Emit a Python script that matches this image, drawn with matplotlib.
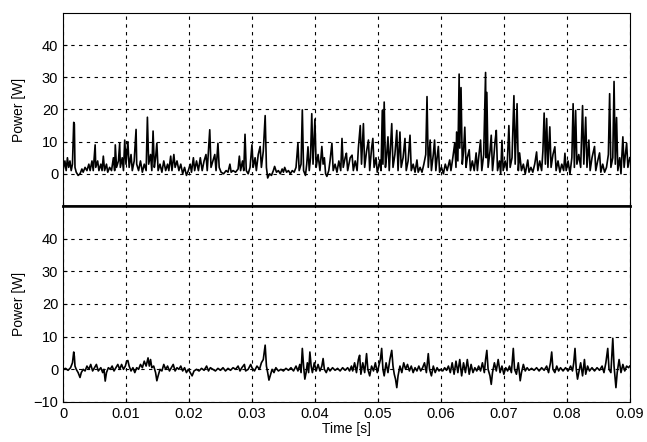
import numpy as np
import matplotlib
matplotlib.use("Agg")
import matplotlib.pyplot as plt

plt.rcParams["font.family"] = ["Liberation Sans", "DejaVu Sans"]

# upper trace: time [s] / power [W]
top_t = [0.0000, 0.0003, 0.0005, 0.0007, 0.0009, 0.0011, 0.0013, 0.0015, 0.0017, 0.0018,
         0.0019, 0.0021, 0.0024, 0.0027, 0.0030, 0.0032, 0.0035, 0.0038, 0.0041, 0.0043,
         0.0046, 0.0048, 0.0051, 0.0052, 0.0055, 0.0057, 0.0060, 0.0062, 0.0064, 0.0066,
         0.0069, 0.0071, 0.0074, 0.0077, 0.0080, 0.0082, 0.0083, 0.0085, 0.0088, 0.0090,
         0.0091, 0.0094, 0.0096, 0.0098, 0.0100,
         0.0103, 0.0105, 0.0108, 0.0110, 0.0113, 0.0116, 0.0117, 0.0120, 0.0123, 0.0126,
         0.0129, 0.0132, 0.0134, 0.0136, 0.0139, 0.0141, 0.0143, 0.0145, 0.0147, 0.0149,
         0.0151, 0.0154, 0.0157, 0.0160, 0.0163, 0.0166, 0.0168, 0.0171, 0.0173, 0.0176,
         0.0178, 0.0181, 0.0184, 0.0187, 0.0190, 0.0193, 0.0196, 0.0199,
         0.0202, 0.0204, 0.0207, 0.0209, 0.0212, 0.0215, 0.0218, 0.0221, 0.0224, 0.0227,
         0.0229, 0.0233, 0.0235, 0.0238, 0.0241, 0.0243, 0.0246, 0.0248, 0.0251, 0.0255,
         0.0259, 0.0262, 0.0265, 0.0267, 0.0270, 0.0274, 0.0278, 0.0280, 0.0282, 0.0285,
         0.0287, 0.0289, 0.0291, 0.0294, 0.0297, 0.0300,
         0.0302, 0.0305, 0.0307, 0.0310, 0.0313, 0.0315, 0.0318, 0.0321, 0.0323, 0.0325,
         0.0328, 0.0331, 0.0334, 0.0336, 0.0339, 0.0342, 0.0345, 0.0348, 0.0350, 0.0352,
         0.0355, 0.0358, 0.0361, 0.0364, 0.0367, 0.0370, 0.0373, 0.0375, 0.0378, 0.0380,
         0.0382, 0.0385, 0.0387, 0.0389, 0.0391, 0.0393, 0.0395, 0.0397, 0.0400,
         0.0402, 0.0405, 0.0408, 0.0411, 0.0413, 0.0415, 0.0417, 0.0419, 0.0422, 0.0424,
         0.0427, 0.0429, 0.0432, 0.0435, 0.0438, 0.0441, 0.0443, 0.0445, 0.0448, 0.0450,
         0.0452, 0.0456, 0.0459, 0.0461, 0.0464, 0.0467, 0.0469, 0.0472, 0.0474, 0.0477,
         0.0479, 0.0482, 0.0485, 0.0487, 0.0490, 0.0492, 0.0494, 0.0497, 0.0499,
         0.0501, 0.0503, 0.0505, 0.0507, 0.0508, 0.0510, 0.0512, 0.0514, 0.0516, 0.0518,
         0.0520, 0.0522, 0.0524, 0.0527, 0.0530, 0.0532, 0.0535, 0.0537, 0.0540, 0.0543,
         0.0545, 0.0548, 0.0551, 0.0553, 0.0556, 0.0559, 0.0562, 0.0564, 0.0567, 0.0570,
         0.0573, 0.0576, 0.0578, 0.0580, 0.0583, 0.0585, 0.0588, 0.0590, 0.0592, 0.0594,
         0.0596, 0.0598,
         0.0601, 0.0604, 0.0607, 0.0610, 0.0614, 0.0616, 0.0619, 0.0622, 0.0624, 0.0625,
         0.0627, 0.0629, 0.0630, 0.0632, 0.0634, 0.0636, 0.0638, 0.0640, 0.0642, 0.0645,
         0.0647, 0.0650, 0.0653, 0.0656, 0.0658, 0.0660, 0.0663, 0.0665, 0.0668, 0.0671,
         0.0672, 0.0673, 0.0675, 0.0678, 0.0680, 0.0682, 0.0684, 0.0686, 0.0688, 0.0690,
         0.0693, 0.0695,
         0.0697, 0.0699, 0.0702, 0.0705, 0.0708, 0.0710, 0.0713, 0.0716, 0.0718, 0.0721,
         0.0723, 0.0725, 0.0728, 0.0731, 0.0734, 0.0738, 0.0740, 0.0743, 0.0746, 0.0749,
         0.0752, 0.0754, 0.0757, 0.0760, 0.0762, 0.0764, 0.0766, 0.0768, 0.0770, 0.0773,
         0.0775, 0.0778, 0.0781, 0.0783, 0.0786, 0.0789, 0.0792, 0.0795, 0.0797, 0.0799,
         0.0802, 0.0805, 0.0808, 0.0810, 0.0812, 0.0814, 0.0816, 0.0819, 0.0822, 0.0825,
         0.0827, 0.0830, 0.0832, 0.0835, 0.0837, 0.0840, 0.0844, 0.0846, 0.0849, 0.0852,
         0.0854, 0.0857, 0.0860, 0.0863, 0.0866, 0.0868, 0.0870, 0.0873, 0.0875, 0.0877,
         0.0879, 0.0881, 0.0884, 0.0886, 0.0889, 0.0891, 0.0893, 0.0895, 0.0897, 0.0900]
top_p = [1, 4, 1, 5, 2, 4, 1, 3, 16, 15.5,
         2, 0.5, -0.5, 0, 1.5, 0.5, 2, 1, 3, 1,
         4, 1, 9, 2, 4, 1, 3, 1, 5.5, 1,
         3, 0.5, 2, 1, 5, 1, 9, 2, 4, 9.5,
         2, 5, 1, 10.5, 3,
         10, 2, 6, 1, 4, 13.8, 3, 1, 4, 0.5,
         3, 1, 17.6, 3, 6, 1, 13.3, 2, 5, 9.5,
         1, 3, 0.5, 4, 1, 3, 1, 5.5, 1, 6,
         2, 4, 1, 3, 0, 2, -0.5, 1,
         3, 0.5, 5, 1, 4, 1, 5, 1, 4, 6,
         1, 13.7, 2, 4, 6, 1, 9.5, 2, 0.5, 0,
         1, 0.5, 3, 0.5, 1, 0.5, 1.5, 5.5, 1, 4,
         1, 12.3, 1, 0, 2, 9,
         2, 5, 1, 6, 8.5, 2, 7, 18.1, 2, -1.3,
         0, -0.5, 1, 2.3, 0.5, 1, 0, 1.5, 0.5, 2,
         0.5, 1, 0, 1, 0.5, 2, 9.5, 1, 3, 19.9,
         1, -0.5, 3, 8.4, 1, 5, 18.7, 3, 17,
         2, 6, 1, 8.5, 3, 5, 0, -0.8, 1, 4,
         9.5, 1, 3, 0.5, 4, 1, 11, 2, 5, 6.4,
         1, 5, 5.8, 1, 4, 1, 8, 15, 3, 15.6,
         2, 7, 10.5, 1, 8, 11, 2, 5, 0.5,
         2, 4.3, 1, 19.7, 3, 22.3, 2, 6, 11.5, 1,
         8, 15.6, 2, 6, 13.5, 1, 13, 2, 5, 11,
         1, 4, 12, 1, 3, 0.5, 4.3, 0.5, 2, 0.5,
         3, 6, 24, 2, 10.5, 1, 6, 10.5, 1, 5,
         8.5, 0.5,
         2, 0, 3, 1, 4.3, 1, 5, 9.5, 2, 13,
         4, 31, 8, 26.8, 3, 7, 14.5, 2, 5, 7.5,
         1, 4, 1, 6.5, 1, 5, 10.5, 1, 6, 31.5,
         5, 25.3, 2, 7, 12, 1, 5, 10, 13.5, 1,
         4, 0,
         10.4, 1, 4, 1, 15, 2, 5, 24.3, 3, 21.8,
         1, 6.5, 1, 3, 0, 4.3, 0.5, 2, 0.5, 3,
         6.8, 1, 4, 1, 7, 18.9, 3, 17.2, 2, 14.6,
         2, 6, 8.4, 1, 4, 0.5, 3, 1, 6.4, 1,
         4, 0, 5, 21.8, 2, 19.7, 3, 6, 2, 21.2,
         3, 17.6, 2, 10.5, 1, 5, 8.5, 1, 4, 6.5,
         0.5, 3, 0.5, 2, 6, 24.9, 2, 5, 28.7, 3,
         17.5, 1, 5, 0, 11.5, 2, 6, 9.5, 2, 5]

# lower trace
bot_t = [0.0000, 0.0004, 0.0008, 0.0012, 0.0015, 0.0017, 0.0018, 0.0019, 0.0021, 0.0024,
         0.0027, 0.0029, 0.0032, 0.0035, 0.0038, 0.0041, 0.0044, 0.0047, 0.0050, 0.0053,
         0.0056, 0.0060, 0.0063, 0.0065, 0.0067, 0.0069, 0.0072, 0.0075, 0.0078, 0.0081,
         0.0084, 0.0087, 0.0090, 0.0093, 0.0096, 0.0099, 0.0101, 0.0103, 0.0105, 0.0108,
         0.0111, 0.0114, 0.0117, 0.0120, 0.0123, 0.0126, 0.0129, 0.0132, 0.0135, 0.0137,
         0.0139, 0.0141, 0.0144, 0.0147, 0.0149, 0.0151, 0.0154, 0.0157, 0.0160, 0.0163,
         0.0166, 0.0169, 0.0172, 0.0175, 0.0178, 0.0181, 0.0184, 0.0187, 0.0190, 0.0193,
         0.0196, 0.0199, 0.0202, 0.0205, 0.0208, 0.0212, 0.0216, 0.0220, 0.0224, 0.0228,
         0.0231, 0.0234, 0.0238, 0.0242, 0.0246, 0.0250, 0.0254, 0.0258, 0.0262, 0.0266,
         0.0270, 0.0274, 0.0278, 0.0281, 0.0284, 0.0288, 0.0290, 0.0294, 0.0298, 0.0300,
         0.0304, 0.0308, 0.0312, 0.0315, 0.0318, 0.0321, 0.0323, 0.0325, 0.0327, 0.0329,
         0.0332, 0.0335, 0.0338, 0.0342, 0.0346, 0.0350, 0.0354, 0.0358, 0.0362, 0.0366,
         0.0370, 0.0373, 0.0376, 0.0378, 0.0380, 0.0382, 0.0384, 0.0386, 0.0388, 0.0390,
         0.0392, 0.0394, 0.0396, 0.0399, 0.0402, 0.0405, 0.0408, 0.0411, 0.0413, 0.0415,
         0.0418, 0.0421, 0.0424, 0.0428, 0.0432, 0.0436, 0.0440, 0.0444, 0.0448, 0.0452,
         0.0455, 0.0458, 0.0460, 0.0463, 0.0466, 0.0469, 0.0471, 0.0473, 0.0476, 0.0479,
         0.0482, 0.0484, 0.0487, 0.0490, 0.0493, 0.0496, 0.0499, 0.0502, 0.0504, 0.0506,
         0.0508, 0.0510, 0.0513, 0.0516, 0.0519, 0.0522, 0.0524, 0.0526, 0.0528, 0.0530,
         0.0532, 0.0535, 0.0538, 0.0541, 0.0544, 0.0547, 0.0550, 0.0553, 0.0556, 0.0559,
         0.0562, 0.0565, 0.0568, 0.0571, 0.0574, 0.0577, 0.0580, 0.0582, 0.0585, 0.0588,
         0.0591, 0.0594, 0.0597, 0.0600, 0.0603, 0.0606, 0.0609, 0.0612, 0.0615, 0.0618,
         0.0621, 0.0624, 0.0627, 0.0630, 0.0633, 0.0636, 0.0639, 0.0642, 0.0645, 0.0648,
         0.0651, 0.0654, 0.0657, 0.0660, 0.0663, 0.0666, 0.0669, 0.0671, 0.0673, 0.0675,
         0.0678, 0.0680, 0.0682, 0.0685, 0.0688, 0.0691, 0.0694, 0.0697, 0.0700, 0.0703,
         0.0706, 0.0709, 0.0712, 0.0715, 0.0717, 0.0720, 0.0723, 0.0726, 0.0728, 0.0731,
         0.0734, 0.0737, 0.0740, 0.0744, 0.0748, 0.0752, 0.0756, 0.0760, 0.0764, 0.0768,
         0.0771, 0.0774, 0.0776, 0.0778, 0.0781, 0.0784, 0.0787, 0.0790, 0.0794, 0.0798,
         0.0802, 0.0806, 0.0809, 0.0811, 0.0813, 0.0815, 0.0817, 0.0819, 0.0822, 0.0825,
         0.0828, 0.0830, 0.0833, 0.0836, 0.0840, 0.0844, 0.0848, 0.0852, 0.0856, 0.0859,
         0.0862, 0.0865, 0.0867, 0.0870, 0.0873, 0.0875, 0.0878, 0.0880, 0.0883, 0.0886,
         0.0889, 0.0892, 0.0895, 0.0898, 0.0900]
bot_p = [0, 0.3, -0.3, 0.5, 2, 5.3, 4, 1, 0, -1,
         -2.5, -1, 0, -0.5, 1, 0, 1.5, -0.5, 0.5, 1.5,
         -0.5, 0.5, -1, 0, -3.6, -1, 0.5, 0, 1, -0.5,
         0.5, 1.5, 0, 1.5, 0, 1, 2.5, 2.7, 1, -0.5,
         0.5, -1, 0.5, 0, 1.5, 0.5, 2.5, 1, 3.5, 1,
         3, 0.5, 1, -1, -3.5, -2, 0, -0.5, 1.5, 0,
         1, -0.5, 0.5, 1.5, -0.5, 0.5, 0, 1, -0.5, 0.5,
         -1, 0, -1, -2, -0.5, 0, -0.5, 0.3, -0.3, 1,
         -0.5, 0.5, 0, -0.5, 0.3, -0.3, 0.5, -0.5, 0.3, -0.3,
         0.5, 0, 1, -0.5, 0.5, 1.5, -0.5, 0, 1.5, 0.5,
         -0.5, 1, 0, 2, 3, 7.4, 1, -1, -3.3, -2,
         0, -1, 0.5, -0.5, 0, -0.5, 0.3, -0.3, 0.5, -0.5,
         1, -0.5, 1.5, -1, 6.4, 1, -3, -1, 2, -1,
         5.3, 1, -1, 2, -0.5, 1.5, -0.5, 1, 3.3, 0,
         -1, 0.5, -0.5, 0.5, -0.3, 0.3, -0.5, 0.5, -0.3, 0.5,
         -0.5, 1, -0.5, 2, -1, 3, 4.3, -1.5, 2, -1,
         4.8, 0, -2, 1, -0.5, 2, -1, 1.5, 3, 6.4,
         0, -2, 2, -1, 3, 5.8, 1, -1.5, -3, -5.6,
         -2, 1, -1, 2, 0, 1.5, -0.5, 1, -1, 0.5,
         -0.5, 1, -0.5, 0.5, 2, -1, 4.8, 0, -2, 1,
         -1, 0.5, -0.5, 0, -0.5, 0.5, -0.3, 1, -1, 2,
         -1.5, 2.5, -1, 3, -2, 2, -1, 3, -1.5, 1.5,
         -1, 0.5, -0.5, 1, -0.5, 2, -1, 3, 5.8, 0,
         -2, -4.6, -1, 2, -0.5, 3, -1, 1, -1.5, 0.5,
         -0.5, 1, -1, 6.4, 0, -1.5, 2, -3.5, -1, 1.5,
         -0.5, 0.5, -0.3, 0.3, -0.3, 0.5, -0.5, 0.5, -0.3, 1,
         -1, 2, 5.3, 0, -1, 1, -0.5, 0.5, -0.5, 0.5,
         -0.5, 1, -0.5, 2, 6.4, 0, -3, -1, 2, -2,
         3, -1.5, 1, -0.5, 0.5, -0.5, 0.5, -0.3, 1, -1,
         2, 6.4, 0, -1, 9.5, 1, -5.6, -1, 3, -1,
         1.5, -0.5, 1, 0.5, 1]

x_ticks = [0, 0.01, 0.02, 0.03, 0.04, 0.05, 0.06, 0.07, 0.08, 0.09]
x_labels = ["0", "0.01", "0.02", "0.03", "0.04", "0.05", "0.06", "0.07", "0.08", "0.09"]
top_yticks = [0, 10, 20, 30, 40]
bot_yticks = [-10, 0, 10, 20, 30, 40]

fig = plt.figure(figsize=(6.47, 4.42), dpi=100)
ax1 = fig.add_axes([0.0974, 0.534, 0.876, 0.4366])
ax2 = fig.add_axes([0.0974, 0.0905, 0.876, 0.4435])

for ax, t, p, yt in [(ax1, top_t, top_p, top_yticks), (ax2, bot_t, bot_p, bot_yticks)]:
    ax.plot(t, p, color="black", lw=1.2)
    ax.set_xlim(0, 0.09)
    ax.set_ylim(-10, 50)
    ax.set_xticks(x_ticks)
    ax.set_yticks(yt)
    ax.grid(True, color="black", linestyle=(0, (3, 4)), linewidth=0.8)
    ax.tick_params(direction="in", length=3, labelsize=10.5, width=0.8)
    ax.set_ylabel("Power [W]", fontsize=10)
    ax.yaxis.set_label_coords(-0.065, 0.5)
    for s in ax.spines.values():
        s.set_linewidth(0.8)

ax1.set_xticklabels([])
ax1.spines["bottom"].set_linewidth(1.8)
ax2.spines["top"].set_linewidth(1.8)
ax2.set_xticklabels(x_labels)
ax2.set_xlabel("Time [s]", fontsize=10, labelpad=1)

fig.savefig("out.png", dpi=100)
